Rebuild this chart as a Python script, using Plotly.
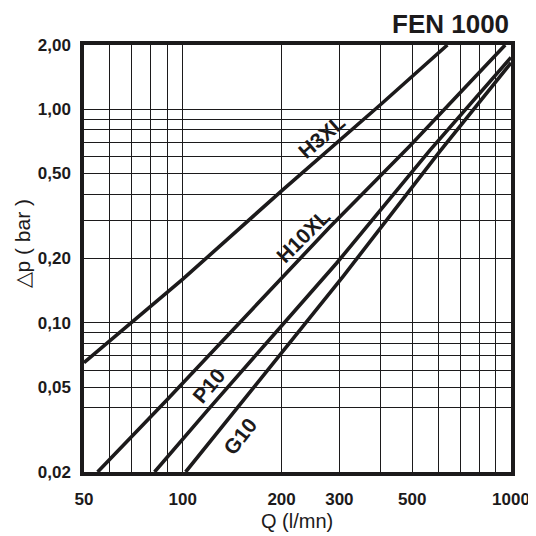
import numpy as np
import plotly.graph_objects as go

# ---- data ----
q_h3xl = [50, 100, 200, 400, 640]
dp_h3xl = [0.065, 0.16, 0.415, 1.05, 2.0]

q_h10xl = [55, 90, 280, 490, 960]
dp_h10xl = [0.02, 0.044, 0.28, 0.67, 2.0]

q_p10 = [82, 120, 294, 565, 1000]
dp_p10 = [0.02, 0.0395, 0.19, 0.64, 1.75]

q_g10 = [102, 308, 607, 1000]
dp_g10 = [0.02, 0.165, 0.635, 1.65]

x_grid = [50, 60, 70, 80, 90, 100, 200, 300, 400, 500, 600, 700, 800, 900, 1000]
x_text = ["50", "", "", "", "", "100", "200", "300", "", "500", "", "", "", "", "1000"]
y_grid = [0.02, 0.04, 0.05, 0.06, 0.07, 0.08, 0.09, 0.1, 0.2, 0.3, 0.4, 0.5,
          0.6, 0.7, 0.8, 0.9, 1.0, 2.0]
y_text = ["0,02", "", "0,05", "", "", "", "", "0,10", "0,20", "", "", "0,50",
          "", "", "", "", "1,00", "2,00"]

labels = ["H3XL", "H10XL", "P10", "G10"]
label_q = [265, 233, 120, 149]
label_dp = [0.743, 0.257, 0.0509, 0.0294]
label_angle = [-41, -45, -50, -52]

series = [(q_h3xl, dp_h3xl), (q_h10xl, dp_h10xl), (q_p10, dp_p10), (q_g10, dp_g10)]

INK = "#1c1a1b"

fig = go.Figure()
for (q, dp), name in zip(series, labels):
    fig.add_trace(go.Scatter(x=q, y=dp, mode="lines", name=name,
                             line=dict(color=INK, width=3.6),
                             showlegend=False, hoverinfo="skip"))

for name, q, dp, ang in zip(labels, label_q, label_dp, label_angle):
    fig.add_annotation(x=np.log10(q), y=np.log10(dp), xref="x", yref="y",
                       text="<b>" + name + "</b>", showarrow=False, textangle=ang,
                       font=dict(family="Liberation Sans", size=21, color=INK),
                       xanchor="center", yanchor="middle")

tickfont = dict(family="Liberation Sans", size=17, color=INK, weight="bold")

fig.update_xaxes(type="log", range=[np.log10(50), np.log10(1000)],
                 tickvals=x_grid, ticktext=x_text, tickfont=tickfont,
                 showgrid=True, gridcolor=INK, gridwidth=1.3,
                 showline=True, mirror=True, linecolor=INK, linewidth=3.5,
                 ticks="", ticklabelstandoff=9, zeroline=False)
fig.update_yaxes(type="log", range=[np.log10(0.02), np.log10(2.0)],
                 tickvals=y_grid, ticktext=y_text, tickfont=tickfont,
                 showgrid=True, gridcolor=INK, gridwidth=1.3,
                 showline=True, mirror=True, linecolor=INK, linewidth=3.5,
                 ticks="", ticklabelstandoff=6, zeroline=False)

fig.add_annotation(text="<b>FEN 1000</b>", xref="paper", yref="paper",
                   x=1.0, y=1.049, xanchor="right", yanchor="middle", showarrow=False,
                   font=dict(family="Liberation Sans", size=26, color=INK))
fig.add_annotation(text="Q (l/mn)", xref="paper", yref="paper",
                   x=0.499, y=-0.115, xanchor="center", yanchor="middle", showarrow=False,
                   font=dict(family="Liberation Sans", size=20, color=INK))
fig.add_annotation(text="△p ( bar )", xref="paper", yref="paper",
                   x=-0.144, y=0.534, xanchor="center", yanchor="middle", showarrow=False,
                   textangle=-90,
                   font=dict(family="Liberation Sans", size=21, color=INK))

# the page body adds an 8 px offset, so margins are shifted accordingly
fig.update_layout(width=536, height=536,
                  margin=dict(l=76, r=33, t=37, b=72),
                  plot_bgcolor="white", paper_bgcolor="white")

fig.write_html("out.html")
